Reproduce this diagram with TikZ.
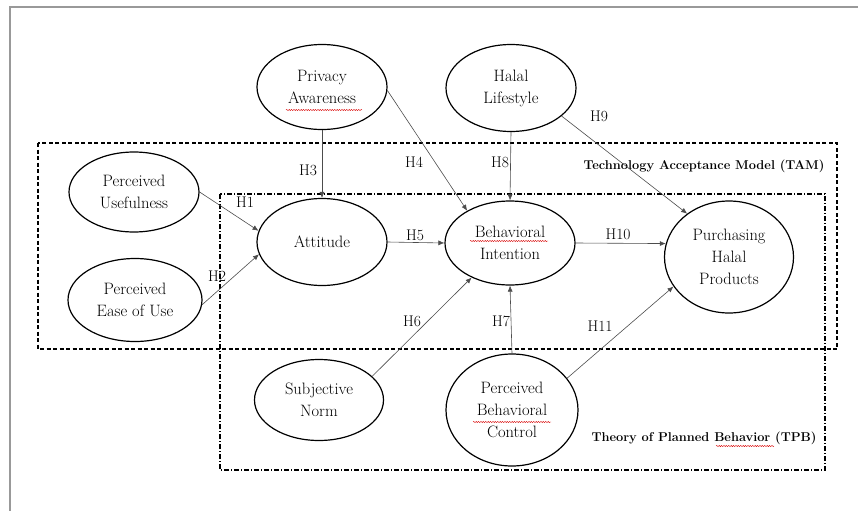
\documentclass[tikz,border=0pt]{standalone}
\usetikzlibrary{shapes.geometric,arrows.meta,decorations.pathmorphing}
\begin{document}
\begin{tikzpicture}[x=1pt,y=-1pt,
  latent/.style={ellipse,draw,line width=1.2pt,inner sep=0pt,align=center,
    font=\fontsize{16.5}{22}\selectfont},
  conn/.style={draw=black!70,line width=0.6pt,-{Latex[length=6pt,width=5pt]}},
  hlab/.style={font=\fontsize{15.5}{18}\selectfont,inner sep=0pt},
  boxlab/.style={font=\fontsize{12.8}{15}\selectfont\bfseries,inner sep=0pt},
  spell/.style={draw=red!85!black,line width=0.4pt,decorate,
    decoration={snake,amplitude=0.6pt,segment length=2.4pt}}]
\useasboundingbox (0,0) rectangle (858,511);
% page frame
\draw[black!40,line width=1.2pt] (858,7) -- (10,7) -- (10,511);
% model boxes
\draw[line width=1.1pt,dash pattern=on 4pt off 2.5pt] (38,143) rectangle (837,349);
\draw[line width=1.1pt,dash pattern=on 5pt off 2pt on 1pt off 2pt] (220,194) rectangle (825,470);
\node[boxlab] (tam) at (704,166) {Technology Acceptance Model (TAM)};
\node[boxlab] (tpb) at (704,438) {Theory of Planned Behavior (TPB)};
% constructs
\node[latent,minimum width=130pt,minimum height=85pt] (pa) at (322,87) {Privacy\\Awareness};
\node[latent,minimum width=130pt,minimum height=87pt] (hl) at (511,88) {Halal\\Lifestyle};
\node[latent,minimum width=130pt,minimum height=80pt] (pu) at (134,192) {Perceived\\Usefulness};
\node[latent,minimum width=134pt,minimum height=83pt] (peu) at (135,300) {Perceived\\Ease of Use};
\node[latent,minimum width=130pt,minimum height=87pt] (att) at (322,242) {Attitude};
\node[latent,minimum width=130pt,minimum height=84pt] (bi) at (510,243) {Behavioral\\Intention};
\node[latent,minimum width=129pt,minimum height=112pt] (php) at (729,257) {Purchasing\\Halal\\Products};
\node[latent,minimum width=129pt,minimum height=81pt] (sn) at (319,400) {Subjective\\Norm};
\node[latent,minimum width=132pt,minimum height=112pt] (pbc) at (512,410) {Perceived\\Behavioral\\Control};
% spell-check marks
\draw[spell] (286,110) -- (362,110);
\draw[spell] (470,241) -- (548,241);
\draw[spell] (473,422) -- (551,422);
\draw[spell] (716,446) -- (774,446);
% paths
\draw[conn] (pu.east) -- (att.170);
\draw[conn] (peu.-4) -- (att.191);
\draw[conn] (pa.south) -- (att.north);
\draw[conn] (pa.-3) -- (bi.143);
\draw[conn] (att.east) -- (bi.west);
\draw[conn] (hl.south) -- (bi.north);
\draw[conn] (hl.-29) -- (php.134);
\draw[conn] (bi.east) -- (php.168);
\draw[conn] (sn.24) -- (bi.222);
\draw[conn] (pbc.north) -- (bi.south);
\draw[conn] (pbc.30) -- (php.208);
% hypothesis labels
\node[hlab] (h1) at (245,202) {H1};
\node[hlab] (h2) at (217,276) {H2};
\node[hlab] (h3) at (308,170) {H3};
\node[hlab] (h4) at (414,162) {H4};
\node[hlab] (h5) at (415,235) {H5};
\node[hlab] (h6) at (412,321) {H6};
\node[hlab] (h7) at (501,321) {H7};
\node[hlab] (h8) at (500,162) {H8};
\node[hlab] (h9) at (599,116) {H9};
\node[hlab] (h10) at (618,234) {H10};
\node[hlab] (h11) at (600,326) {H11};
\end{tikzpicture}
\end{document}
